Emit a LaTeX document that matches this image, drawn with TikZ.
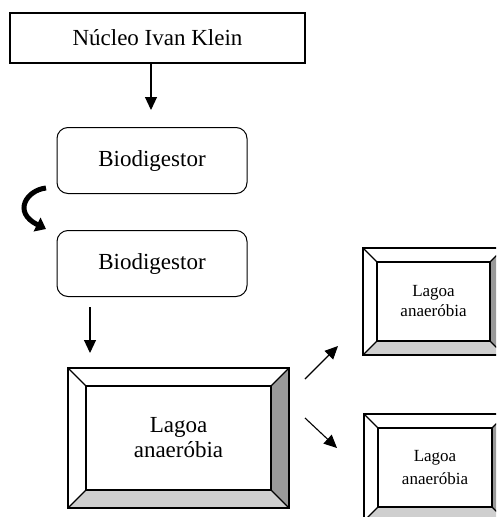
\documentclass[tikz,border=0pt]{standalone}
\usepackage{fontspec}
\setmainfont{Liberation Serif}
\usetikzlibrary{arrows.meta}

% Beveled frame: outer (#1,#2)-(#3,#4), bevel width #5, node name #6, text #7, font #8
\newcommand\bevelframe[8]{%
  \fill[white] (#1,#2) rectangle (#3,#4);
  \fill[bevelright] (#3,#2) -- (#3,#4) -- ({#3-#5},{#4-#5}) -- ({#3-#5},{#2+#5}) -- cycle;
  \fill[bevelbottom] (#1,#4) -- (#3,#4) -- ({#3-#5},{#4-#5}) -- ({#1+#5},{#4-#5}) -- cycle;
  \draw[frameline] (#1,#2) rectangle (#3,#4);
  \draw[frameline] (#1,#2) -- ({#1+#5},{#2+#5});
  \draw[frameline] (#3,#2) -- ({#3-#5},{#2+#5});
  \draw[frameline] (#1,#4) -- ({#1+#5},{#4-#5});
  \draw[frameline] (#3,#4) -- ({#3-#5},{#4-#5});
  \node[frameline, draw, rectangle, minimum width={#3-#1-2*#5}, minimum height={#4-#2-2*#5},
        inner sep=0pt, align=center, font=#8]
        (#6) at ({(#1+#3)/2},{(#2+#4)/2}) {#7};
}

\definecolor{bevelright}{gray}{0.6}
\definecolor{bevelbottom}{gray}{0.81}

\begin{document}
\begin{tikzpicture}[x=1pt,y=-1pt,
  frameline/.style={line width=1.2pt, black},
  plainbox/.style={draw, line width=1.2pt, minimum width=295pt, minimum height=50pt, inner sep=0pt,
    font=\fontsize{23}{26}\selectfont},
  roundbox/.style={draw, line width=1pt, rounded corners=11pt, minimum width=190pt, minimum height=66pt,
    inner sep=0pt, font=\fontsize{23}{26}\selectfont},
  flow/.style={line width=1.1pt, -{Triangle[length=13pt,width=12pt]}},
]
\useasboundingbox (0,0) rectangle (496,517);
\clip (0,0) rectangle (496,517);

% top block
\node[plainbox] (nucleo) at (157.5,38) {Núcleo Ivan Klein};

% digesters
\node[roundbox] (bio1) at (152,160.5) {Biodigestor};
\node[roundbox] (bio2) at (152,263.5) {Biodigestor};

% anaerobic lagoons
\bevelframe{68}{368}{289}{508}{18}{lagoa}{Lagoa\\anaeróbia}{\fontsize{23}{25}\selectfont}
\bevelframe{363}{248}{504}{355}{14}{lagoaA}{Lagoa\\anaeróbia}{\fontsize{17}{20}\selectfont}
\bevelframe{364}{414}{506}{521}{14}{lagoaB}{Lagoa\\anaeróbia}{\fontsize{17}{23}\selectfont}

% connectors
\coordinate (n1) at (151,63);
\coordinate (n2) at (151,110);
\draw[flow] (n1) -- (n2);

\coordinate (c1) at (46,188);
\coordinate (c2) at (46,229);
\draw[line width=5pt, -{Triangle[length=10pt,width=15pt]}]
  (c1) .. controls (27,190) and (12,212) .. (c2);

\coordinate (d1) at (90,307);
\coordinate (d2) at (90,353);
\draw[flow] (d1) -- (d2);

\coordinate (u1) at (305,379);
\coordinate (u2) at (338,346);
\draw[flow] (u1) -- (u2);

\coordinate (w1) at (305,418);
\coordinate (w2) at (337,448);
\draw[flow] (w1) -- (w2);
\end{tikzpicture}
\end{document}
